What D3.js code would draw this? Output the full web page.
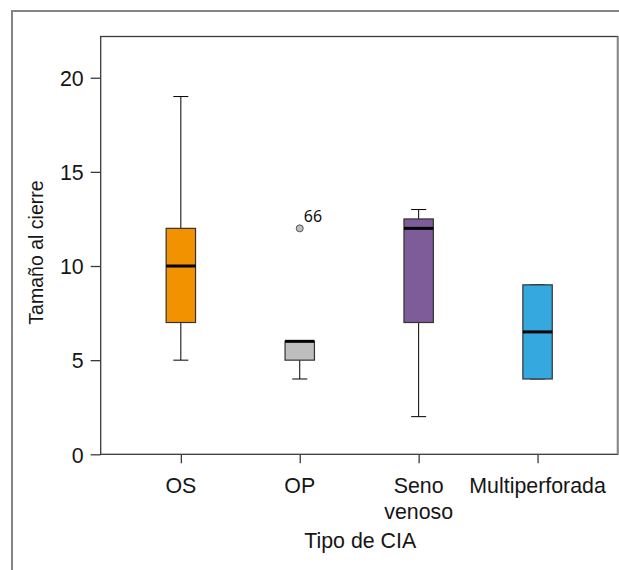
<!DOCTYPE html>
<html><head><meta charset="utf-8">
<script src="https://cdn.jsdelivr.net/npm/d3@7/dist/d3.min.js"></script>
<style>body{margin:0;background:#fff}</style>
</head><body>
<svg id="c" width="619" height="570"></svg>
<script>
const categories = ["OS", "OP", "Seno venoso", "Multiperforada"];
const categoryLines = [["OS"], ["OP"], ["Seno", "venoso"], ["Multiperforada"]];
const whiskerLow = [5, 4, 2, 4];
const q1 = [7, 5, 7, 4];
const median = [10, 6, 12, 6.5];
const q3 = [12, 6, 12.5, 9];
const whiskerHigh = [19, 6, 13, 9];
const fillColors = ["#F39200", "#BEBEBE", "#7E5B99", "#35A8E0"];
const outliers = [{cat: "OP", value: 12, label: "66"}];
const yTicks = [0, 5, 10, 15, 20];
const yTitle = "Tamaño al cierre";
const xTitle = "Tipo de CIA";

const svg = d3.select("#c");
const L = 100.7, R = 617.7, T = 36.5, B = 454.3;
const y = d3.scaleLinear().domain([0, 22.19]).range([B, T]);
const x = d3.scalePoint().domain(categories).range([L, R]).padding(0.674);
const boxW = 29.4, capW = 15;
const FONT = "'Liberation Sans', Arial, sans-serif";
const SX = 0.93; // condensed look

function condText(parent, px, py, str, size, anchor, rotate) {
  const g = parent.append("g")
    .attr("transform", `translate(${px},${py})` + (rotate ? ` rotate(${rotate})` : "") + ` scale(${SX},1)`);
  return g.append("text").attr("x", 0).attr("y", 0).attr("text-anchor", anchor || "middle")
    .attr("font-family", FONT).attr("font-size", size).attr("fill", "#161616").text(str);
}

// outer frame
svg.append("rect").attr("x", 12).attr("y", 11).attr("width", 640).attr("height", 600)
  .attr("fill", "none").attr("stroke", "#858585").attr("stroke-width", 2);

// plot frame
svg.append("rect").attr("x", L).attr("y", T).attr("width", R - L).attr("height", B - T)
  .attr("fill", "none").attr("stroke", "#3a3a3a").attr("stroke-width", 1.3);
svg.append("line").attr("x1", R).attr("x2", R).attr("y1", T).attr("y2", B)
  .attr("stroke", "#8a8a8a").attr("stroke-width", 2);

// y axis
const yAxis = d3.axisLeft(y).tickValues(yTicks).tickSize(10).tickFormat("");
const gy = svg.append("g").attr("transform", `translate(${L},0)`).call(yAxis);
gy.select(".domain").remove();
gy.selectAll(".tick line").attr("stroke", "#3a3a3a").attr("stroke-width", 1.3);
yTicks.forEach(t => {
  condText(svg, L - 17, y(t), String(t), 23, "end").attr("dy", "0.36em");
});

// x axis
const xAxis = d3.axisBottom(x).tickSize(9).tickFormat("");
const gx = svg.append("g").attr("transform", `translate(0,${B})`).call(xAxis);
gx.select(".domain").remove();
gx.selectAll(".tick line").attr("stroke", "#3a3a3a").attr("stroke-width", 1.3);
categories.forEach((c, i) => {
  categoryLines[i].forEach((ln, j) => {
    condText(svg, x(c), 493 + j * 26, ln, 23, "middle");
  });
});

// titles
condText(svg, (L + R) / 2 + 1, 548, xTitle, 23, "middle");
condText(svg, 43, (182 + 323) / 2, yTitle, 21, "middle", -90);

// boxes
categories.forEach((c, i) => {
  const cx = x(c);
  const g = svg.append("g");
  g.append("line").attr("x1", cx).attr("x2", cx).attr("y1", y(whiskerHigh[i])).attr("y2", y(q3[i]))
    .attr("stroke", "#000").attr("stroke-width", 1);
  g.append("line").attr("x1", cx).attr("x2", cx).attr("y1", y(q1[i])).attr("y2", y(whiskerLow[i]))
    .attr("stroke", "#000").attr("stroke-width", 1);
  [whiskerHigh[i], whiskerLow[i]].forEach(v => {
    g.append("line").attr("x1", cx - capW / 2).attr("x2", cx + capW / 2).attr("y1", y(v)).attr("y2", y(v))
      .attr("stroke", "#000").attr("stroke-width", 1);
  });
  g.append("rect").attr("x", cx - boxW / 2).attr("width", boxW)
    .attr("y", y(q3[i])).attr("height", y(q1[i]) - y(q3[i]))
    .attr("fill", fillColors[i]).attr("stroke", "#333").attr("stroke-width", 1.2);
  g.append("line").attr("x1", cx - boxW / 2).attr("x2", cx + boxW / 2)
    .attr("y1", y(median[i])).attr("y2", y(median[i]))
    .attr("stroke", "#000").attr("stroke-width", 3);
});

// outliers
outliers.forEach(o => {
  const i = categories.indexOf(o.cat);
  svg.append("circle").attr("cx", x(o.cat)).attr("cy", y(o.value)).attr("r", 3.5)
    .attr("fill", fillColors[i]).attr("stroke", "#555").attr("stroke-width", 1);
  svg.append("text").attr("x", x(o.cat) + 4).attr("y", y(o.value) - 6)
    .attr("font-family", "'Noto Sans', sans-serif").attr("font-size", 16).attr("fill", "#111")
    .text(o.label);
});
</script>
</body></html>
